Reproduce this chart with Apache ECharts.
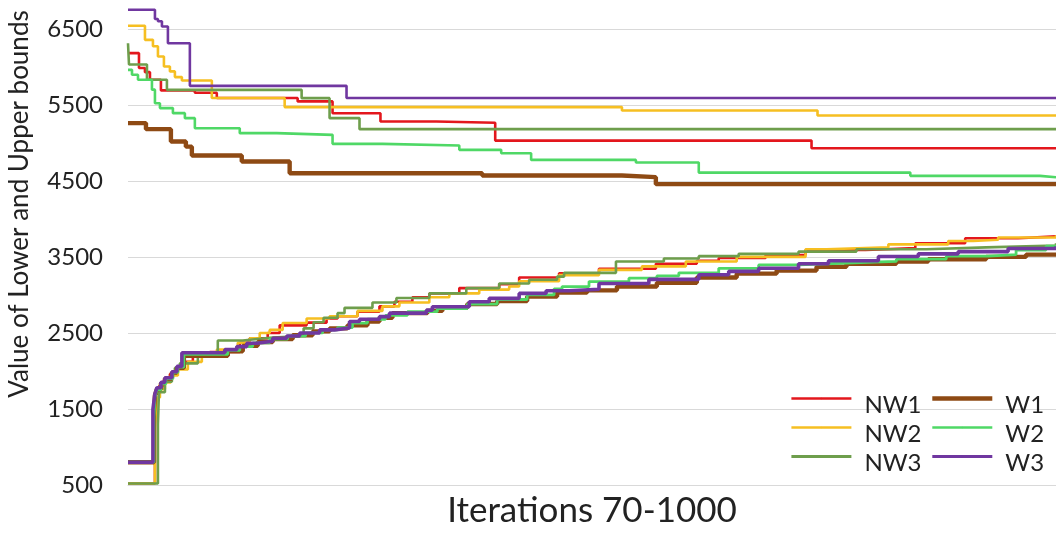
<!DOCTYPE html>
<html>
<head>
<meta charset="utf-8">
<title>Lower and upper bounds, iterations 70-1000</title>
<script src="https://cdn.jsdelivr.net/npm/echarts@6/dist/echarts.min.js"></script>
<style>
  html, body { margin: 0; padding: 0; background: #ffffff; }
  #chart { width: 1056px; height: 533px; }
</style>
</head>
<body>
<div id="chart"></div>
<script>
// Iteration range shown on the x axis
const iterFirst = 70;
const iterLast = 1000;

// Y axis range and tick spacing
const yMin = 500;
const yMax = 6800;
const yStep = 1000;

const seriesNames = ['NW1', 'NW2', 'NW3', 'W1', 'W2', 'W3'];

// Upper bounds: [iteration, value] at each change of the bound
const nw1Upper = [[70, 6180], [81, 5985], [87, 5930], [92, 5830], [103, 5690], [137, 5660], [159, 5590], [240, 5545], [275, 5390], [323, 5280], [379, 5265], [438, 5030], [755, 4930], [1000, 4930]];
const nw2Upper = [[70, 6540], [87, 6355], [95, 6270], [100, 6135], [106, 6005], [112, 5940], [117, 5865], [124, 5820], [154, 5590], [227, 5470], [565, 5425], [761, 5360], [1000, 5360]];
const nw3Upper = [[70, 6310], [71, 6030], [89, 5830], [109, 5697], [244, 5588], [272, 5325], [302, 5180], [1000, 5180]];
const w1Upper = [[70, 5260], [88, 5180], [113, 5017], [128, 4950], [134, 4833], [184, 4755], [232, 4601], [425, 4570], [565, 4549], [599, 4457], [1000, 4457]];
const w2Upper = [[70, 5960], [74, 5895], [80, 5830], [94, 5700], [97, 5520], [102, 5457], [115, 5391], [127, 5325], [137, 5193], [182, 5128], [219, 5105], [275, 4987], [325, 4965], [402, 4908], [444, 4864], [474, 4776], [579, 4741], [642, 4609], [854, 4566], [984, 4548], [1000, 4548]];
const w3Upper = [[70, 6750], [97, 6630], [100, 6600], [104, 6530], [110, 6310], [132, 5750], [289, 5590], [1000, 5590]];

// Lower bounds: [iteration, value] at each change of the bound
const nw1Lower = [[70, 520], [97, 1300], [98, 1700], [101, 1800], [106, 1880], [112, 1960], [118, 2040], [125, 2120], [135, 2190], [152, 2250], [182, 2370], [192, 2430], [210, 2500], [222, 2600], [249, 2635], [269, 2690], [280, 2720], [300, 2780], [322, 2850], [337, 2910], [355, 2970], [372, 3020], [402, 3090], [442, 3140], [462, 3230], [502, 3285], [542, 3345], [599, 3410], [640, 3450], [662, 3485], [709, 3525], [749, 3590], [809, 3615], [859, 3680], [909, 3745], [962, 3770], [1000, 3775]];
const nw2Lower = [[70, 520], [97, 1250], [99, 1650], [102, 1760], [107, 1850], [113, 1940], [120, 2020], [130, 2120], [144, 2190], [159, 2280], [180, 2370], [192, 2430], [202, 2500], [212, 2540], [225, 2630], [249, 2690], [272, 2720], [300, 2790], [325, 2850], [342, 2900], [372, 2970], [392, 3020], [422, 3070], [452, 3110], [462, 3180], [502, 3260], [542, 3330], [585, 3375], [629, 3440], [680, 3500], [749, 3600], [770, 3625], [832, 3665], [892, 3710], [917, 3725], [942, 3755], [1000, 3785]];
const nw3Lower = [[70, 520], [100, 1300], [101, 1720], [107, 1860], [114, 1970], [117, 2040], [122, 2100], [140, 2210], [160, 2400], [185, 2420], [200, 2440], [215, 2455], [240, 2470], [246, 2560], [256, 2640], [266, 2700], [280, 2760], [287, 2830], [315, 2900], [339, 2960], [372, 3020], [409, 3090], [442, 3150], [472, 3200], [500, 3240], [507, 3290], [559, 3440], [607, 3480], [642, 3510], [682, 3540], [742, 3570], [800, 3600], [870, 3625], [930, 3650], [1000, 3680]];
const w1Lower = [[70, 800], [96, 1450], [97, 1680], [99, 1760], [103, 1840], [107, 1900], [114, 1980], [119, 2040], [126, 2200], [170, 2260], [185, 2330], [200, 2380], [215, 2420], [235, 2470], [255, 2520], [272, 2560], [290, 2600], [310, 2650], [322, 2700], [335, 2760], [370, 2790], [385, 2830], [410, 2880], [440, 2920], [470, 2980], [500, 3030], [530, 3060], [560, 3110], [600, 3160], [640, 3230], [680, 3280], [720, 3320], [760, 3370], [790, 3410], [840, 3440], [872, 3470], [930, 3500], [970, 3530], [1000, 3550]];
const w2Lower = [[70, 800], [96, 1400], [97, 1650], [99, 1750], [103, 1830], [108, 1900], [115, 1980], [120, 2050], [126, 2220], [170, 2270], [182, 2320], [195, 2370], [212, 2420], [230, 2460], [248, 2500], [265, 2540], [280, 2570], [295, 2630], [310, 2680], [328, 2730], [350, 2780], [380, 2820], [410, 2880], [440, 2940], [470, 3000], [497, 3080], [505, 3110], [532, 3175], [572, 3220], [600, 3250], [622, 3290], [662, 3350], [702, 3395], [742, 3420], [790, 3440], [840, 3470], [890, 3510], [932, 3530], [960, 3590], [990, 3640], [1000, 3660]];
const w3Lower = [[70, 800], [95, 1500], [97, 1700], [99, 1780], [103, 1850], [107, 1910], [114, 1990], [119, 2060], [124, 2240], [167, 2280], [179, 2320], [189, 2365], [199, 2390], [215, 2430], [229, 2460], [242, 2500], [262, 2540], [277, 2565], [292, 2650], [302, 2680], [322, 2715], [332, 2760], [369, 2800], [375, 2845], [412, 2910], [432, 2955], [462, 3020], [489, 3055], [512, 3075], [542, 3150], [592, 3205], [642, 3265], [672, 3310], [702, 3350], [742, 3410], [772, 3450], [822, 3505], [862, 3540], [902, 3570], [952, 3610], [1000, 3640]];

// Line colours and widths per series name
const styleByName = {
  NW1: { color: '#E3171D', upper: 2.6, lower: 2.6, key: 2.6 },
  NW2: { color: '#F6BF22', upper: 2.6, lower: 2.6, key: 2.6 },
  NW3: { color: '#6E9E4C', upper: 2.6, lower: 2.6, key: 2.8 },
  W1:  { color: '#8E4A14', upper: 4.4, lower: 4.4, key: 4.6 },
  W2:  { color: '#4FD866', upper: 2.6, lower: 2.8, key: 2.6 },
  W3:  { color: '#7037A0', upper: 2.6, lower: 3.6, key: 2.8 }
};

const boundsByName = {
  NW1: [nw1Upper, nw1Lower],
  NW2: [nw2Upper, nw2Lower],
  NW3: [nw3Upper, nw3Lower],
  W1:  [w1Upper, w1Lower],
  W2:  [w2Upper, w2Lower],
  W3:  [w3Upper, w3Lower]
};

const fontFamily = 'Lato, "Open Sans", sans-serif';
const textColor = '#222222';

function stepLine(name, data, width) {
  const s = styleByName[name];
  return {
    type: 'line',
    name: name,
    data: data,
    step: 'end',
    symbol: 'none',
    silent: true,
    lineStyle: { color: s.color, width: width },
    itemStyle: { color: s.color }
  };
}

const series = [];
seriesNames.forEach(function (name) {
  const pair = boundsByName[name];
  series.push(stepLine(name, pair[0], styleByName[name].upper));
  series.push(stepLine(name, pair[1], styleByName[name].lower));
});

// Legend labels sit a little below their key line
const legendText = {
  fontFamily: fontFamily,
  fontSize: 24,
  color: textColor,
  rich: {
    t: {
      fontFamily: fontFamily,
      fontSize: 24,
      color: textColor,
      lineHeight: 15,
      padding: [14, 0, 0, 8]
    }
  }
};

function legendColumn(names, left) {
  return {
    data: names.map(function (name) {
      return { name: name, lineStyle: { width: styleByName[name].key, color: styleByName[name].color } };
    }),
    formatter: '{t|{name}}',
    orient: 'vertical',
    left: left,
    top: 379.5,
    padding: 0,
    itemGap: -9,
    itemWidth: 60,
    itemHeight: 2,
    selectedMode: false,
    textStyle: legendText
  };
}

const chart = echarts.init(document.getElementById('chart'), null, { renderer: 'canvas' });

chart.setOption({
  animation: false,
  backgroundColor: '#ffffff',
  grid: { left: 128, right: 0, top: 6, bottom: 48, containLabel: false, outerBoundsMode: 'none' },
  xAxis: {
    type: 'value',
    min: iterFirst,
    max: iterLast,
    axisLabel: { show: false },
    axisTick: { show: false },
    splitLine: { show: false },
    axisLine: { show: true, lineStyle: { color: '#D9D9D9', width: 1 } },
    name: 'Iterations 70-1000',
    nameLocation: 'middle',
    nameGap: 8,
    nameTextStyle: { fontFamily: fontFamily, fontSize: 35, color: textColor }
  },
  yAxis: {
    type: 'value',
    min: yMin,
    max: yMax,
    interval: yStep,
    axisLine: { show: false },
    axisTick: { show: false },
    axisLabel: {
      margin: 25,
      fontFamily: fontFamily,
      fontSize: 24,
      color: textColor,
      showMaxLabel: false,
      formatter: function (v) { return String(v); }
    },
    splitLine: { show: true, showMaxLine: false, lineStyle: { color: '#D9D9D9', width: 1 } }
  },
  legend: [
    legendColumn(['NW1', 'NW2', 'NW3'], 790),
    legendColumn(['W1', 'W2', 'W3'], 930)
  ],
  graphic: [{
    type: 'text',
    x: 20,
    y: 204,
    rotation: Math.PI / 2,
    style: {
      text: 'Value of Lower and Upper bounds',
      fontFamily: fontFamily,
      fontSize: 26,
      fill: textColor,
      align: 'center',
      verticalAlign: 'middle'
    }
  }],
  series: series
});
</script>
</body>
</html>
